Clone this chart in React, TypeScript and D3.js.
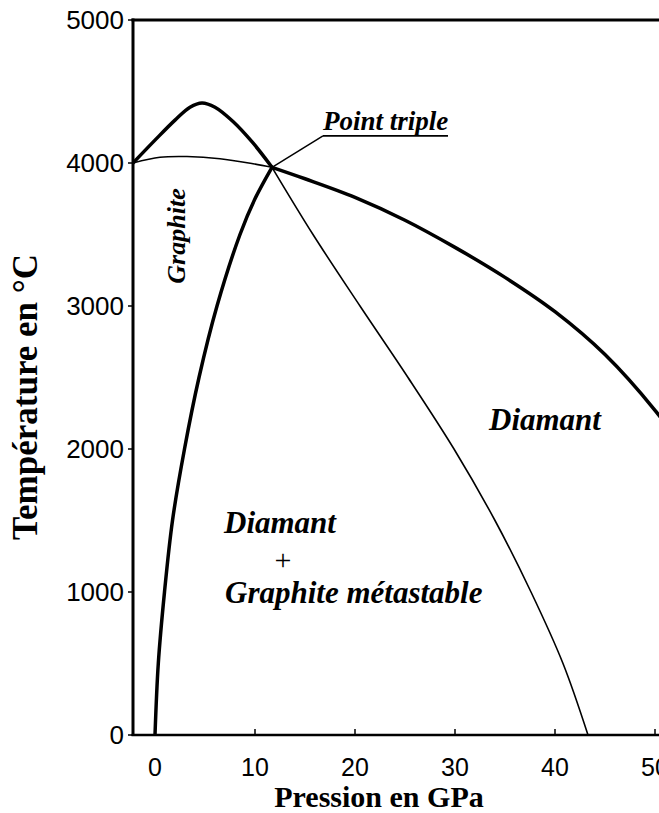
import React from "react";
import * as d3 from "d3";

// Pressure (GPa) ticks and temperature (°C) ticks
const pressureTicks = [0, 10, 20, 30, 40, 50];
const temperatureTicks = [0, 1000, 2000, 3000, 4000, 5000];

// Graphite melting curve (thick), P in GPa, T in °C
const graphiteMeltP = [-2.2, 0, 2, 3.5, 4.7, 6, 7.8, 9.8, 11.7];
const graphiteMeltT = [4000, 4160, 4300, 4390, 4420, 4390, 4290, 4140, 3970];

// Metastable graphite melting (thin) above triple point
const metaUpperP = [-2.2, 0.5, 3.2, 6.5, 9.8, 11.7];
const metaUpperT = [4000, 4040, 4045, 4030, 3995, 3970];

// Metastable graphite melting (thin) below triple point
const metaLowerP = [11.7, 15.8, 20.5, 25.3, 29.9, 34.0, 37.6, 40.8, 43.3];
const metaLowerT = [3970, 3500, 3000, 2500, 2000, 1500, 1000, 500, 0];

// Graphite / diamond boundary (thick)
const gdP = [0, 0.33, 0.95, 1.75, 2.95, 4.4, 6.2, 8.5, 10.0, 11.7];
const gdT = [0, 500, 1000, 1500, 2000, 2500, 3000, 3500, 3750, 3970];

// Diamond melting curve (thick)
const diaMeltP = [11.7, 15, 20, 25, 30, 35, 40, 45, 50, 52];
const diaMeltT = [3970, 3890, 3760, 3600, 3410, 3200, 2960, 2660, 2270, 2080];

// Triple point & annotation anchor
const triplePoint = { p: 11.7, t: 3970 };
const tripleLabel = { p: 16.8, t: 4189, text: "Point triple" };

const W = 659;
const H = 813;
const left = 133;
const right = 659;
const top = 20;
const bottom = 735;

export default function App() {
  const x = d3.scaleLinear().domain([-2.2, 50.4]).range([left, right]);
  const y = d3.scaleLinear().domain([0, 5000]).range([bottom, top]);

  const line = d3
    .line<[number, number]>()
    .x((d) => x(d[0]))
    .y((d) => y(d[1]))
    .curve(d3.curveCatmullRom.alpha(0.5));

  const zip = (ps: number[], ts: number[]) => ps.map((p, i) => [p, ts[i]] as [number, number]);

  const serif = "'Liberation Serif', 'Times New Roman', serif";
  const sans = "'Liberation Sans', Arial, Helvetica, sans-serif";

  const tx = x(tripleLabel.p);
  const ty = y(tripleLabel.t);

  return (
    <svg
      width={W}
      height={H}
      style={{ position: "absolute", left: 0, top: 0, background: "#fff" }}
    >
      <defs>
        <clipPath id="plot">
          <rect x={left} y={top} width={right - left + 5} height={bottom - top} />
        </clipPath>
      </defs>

      {/* axes */}
      <line x1={left} x2={left} y1={top - 1.5} y2={bottom + 1} stroke="#000" strokeWidth={3} />
      <line x1={left - 1.5} x2={right} y1={top} y2={top} stroke="#000" strokeWidth={3} />
      <line x1={left - 1.5} x2={right} y1={bottom} y2={bottom} stroke="#000" strokeWidth={2.5} />

      {temperatureTicks.map((t) => (
        <g key={"yt" + t}>
          <line x1={left - 5} x2={left} y1={y(t)} y2={y(t)} stroke="#000" strokeWidth={1.5} />
          <text
            x={left - 9}
            y={y(t)}
            dy="0.36em"
            textAnchor="end"
            fontFamily={sans}
            fontSize={26}
            fill="#000"
          >
            {t}
          </text>
        </g>
      ))}

      {pressureTicks.map((p) => (
        <g key={"xt" + p}>
          <line x1={x(p)} x2={x(p)} y1={bottom} y2={bottom - 6} stroke="#000" strokeWidth={1.5} />
          <text
            x={x(p)}
            y={776}
            textAnchor="middle"
            fontFamily={sans}
            fontSize={25}
            fill="#000"
          >
            {p}
          </text>
        </g>
      ))}

      <text
        x={379}
        y={807}
        textAnchor="middle"
        fontFamily={serif}
        fontWeight="bold"
        fontSize={30}
        fill="#000"
      >
        Pression en GPa
      </text>
      <text
        transform={`translate(37,397) rotate(-90)`}
        textAnchor="middle"
        fontFamily={serif}
        fontWeight="bold"
        fontSize={35}
        fill="#000"
      >
        Température en °C
      </text>

      {/* curves */}
      <g clipPath="url(#plot)" fill="none" stroke="#000" strokeLinecap="round" strokeLinejoin="round">
        <path d={line(zip(graphiteMeltP, graphiteMeltT)) || ""} strokeWidth={3.5} />
        <path d={line(zip(metaUpperP, metaUpperT)) || ""} strokeWidth={1.6} />
        <path d={line(zip(metaLowerP, metaLowerT)) || ""} strokeWidth={1.6} />
        <path d={line(zip(gdP, gdT)) || ""} strokeWidth={3.5} />
        <path d={line(zip(diaMeltP, diaMeltT)) || ""} strokeWidth={3.5} />
      </g>

      {/* triple point annotation */}
      <line
        x1={x(triplePoint.p)}
        y1={y(triplePoint.t)}
        x2={tx}
        y2={ty}
        stroke="#000"
        strokeWidth={1.5}
      />
      <line x1={tx} x2={tx + 125} y1={ty} y2={ty} stroke="#000" strokeWidth={1.8} />
      <text
        x={tx}
        y={ty - 6}
        fontFamily={serif}
        fontStyle="italic"
        fontWeight="bold"
        fontSize={27}
        fill="#000"
      >
        {tripleLabel.text}
      </text>

      {/* region labels */}
      <text
        transform={`translate(185,236) rotate(-90)`}
        textAnchor="middle"
        fontFamily={serif}
        fontStyle="italic"
        fontWeight="bold"
        fontSize={26}
        fill="#000"
      >
        Graphite
      </text>
      <text
        x={489}
        y={430}
        fontFamily={serif}
        fontStyle="italic"
        fontWeight="bold"
        fontSize={31}
        fill="#000"
      >
        Diamant
      </text>
      <text
        x={224}
        y={533}
        fontFamily={serif}
        fontStyle="italic"
        fontWeight="bold"
        fontSize={31}
        fill="#000"
      >
        Diamant
      </text>
      <text
        x={283}
        y={570}
        textAnchor="middle"
        fontFamily={serif}
        fontSize={30}
        fill="#000"
      >
        +
      </text>
      <text
        x={225}
        y={603}
        fontFamily={serif}
        fontStyle="italic"
        fontWeight="bold"
        fontSize={31}
        fill="#000"
      >
        Graphite métastable
      </text>
    </svg>
  );
}
